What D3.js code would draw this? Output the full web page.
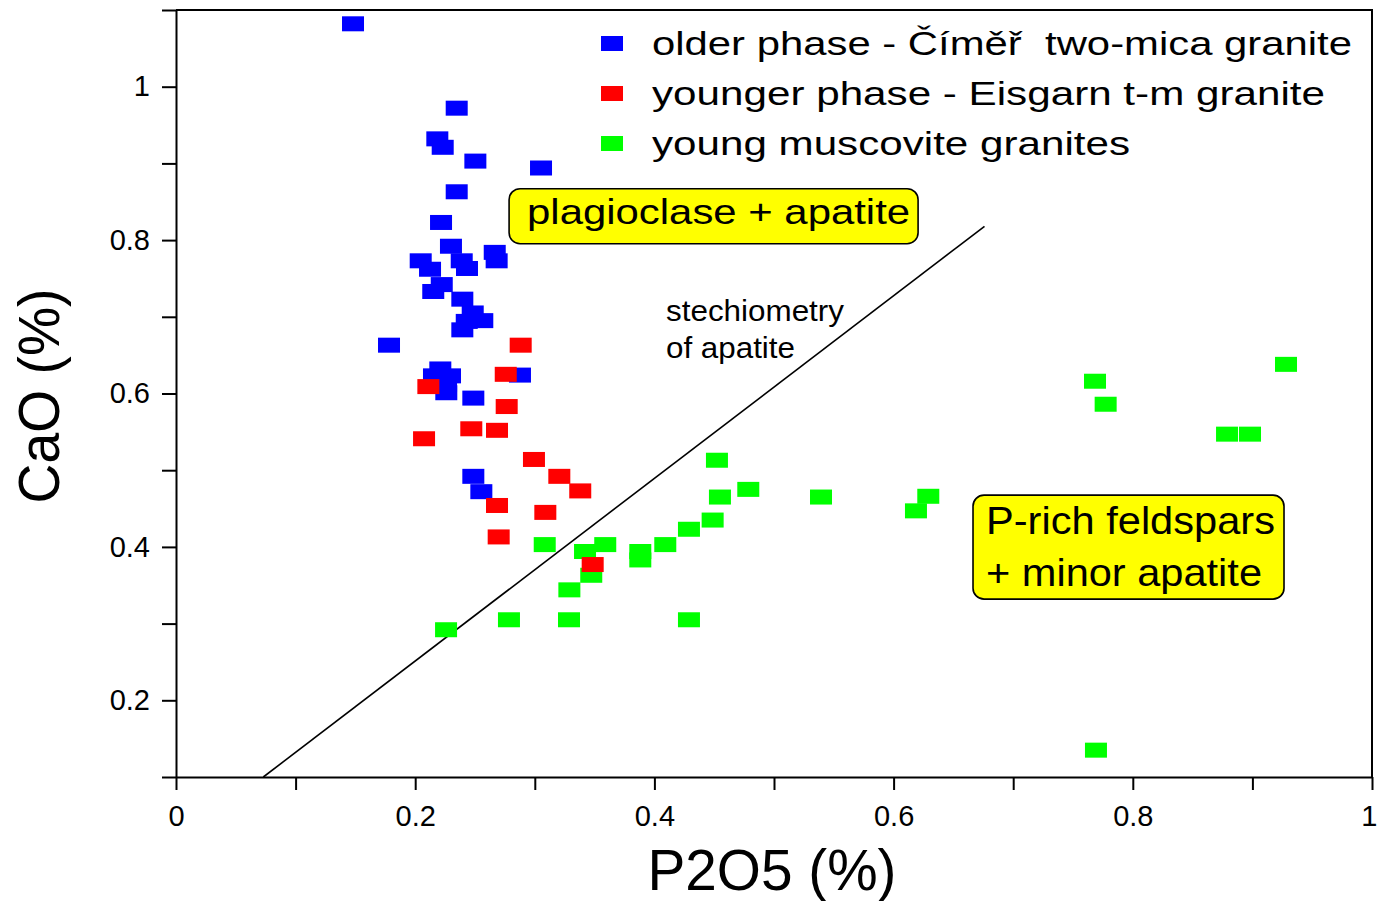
<!DOCTYPE html>
<html>
<head>
<meta charset="utf-8">
<script src="https://cdn.jsdelivr.net/npm/d3@7"></script>
<style>
  body { margin: 0; background: #fff; }
  svg text { font-family: "Liberation Sans", Arial, sans-serif; fill: #000; }
</style>
</head>
<body>
<div id="chart"></div>
<script>
// older phase - Číměř two-mica granite
var olderP2O5 = [0.148, 0.2347, 0.2185, 0.2230, 0.2503, 0.3052, 0.2347, 0.2216, 0.2299, 0.2389, 0.2433,
                 0.2665, 0.2681, 0.2046, 0.2124, 0.2222, 0.2151, 0.2394, 0.2481, 0.2561, 0.2431, 0.2394,
                 0.1781, 0.2210, 0.2157, 0.2291, 0.2258, 0.2260, 0.2486, 0.2876, 0.2486, 0.2553];
var olderCaO  = [1.082, 0.972, 0.932, 0.921, 0.903, 0.894, 0.863, 0.823, 0.792, 0.773, 0.763,
                 0.784, 0.773, 0.773, 0.762, 0.742, 0.733, 0.723, 0.705, 0.695, 0.694, 0.683,
                 0.663, 0.632, 0.623, 0.623, 0.612, 0.601, 0.594, 0.624, 0.492, 0.472];

// younger phase - Eisgarn t-m granite
var youngerP2O5 = [0.2882, 0.2757, 0.2110, 0.2765, 0.2469, 0.2684, 0.2074, 0.2993, 0.3205, 0.3380,
                   0.2684, 0.3088, 0.2698, 0.3484];
var youngerCaO  = [0.663, 0.625, 0.609, 0.583, 0.554, 0.552, 0.541, 0.514, 0.492, 0.473,
                   0.454, 0.445, 0.413, 0.377];

// young muscovite granites
var muscP2O5 = [0.2258, 0.2784, 0.3286, 0.4289, 0.3083, 0.3420, 0.3589, 0.3882, 0.3882, 0.4091,
                0.3472, 0.3289, 0.4289, 0.4487, 0.4523, 0.4548, 0.4785, 0.5393, 0.6290, 0.6187,
                0.7684, 0.7773, 0.9281, 0.8788, 0.8980, 0.7692];
var muscCaO  = [0.292, 0.305, 0.305, 0.305, 0.403, 0.394, 0.403, 0.394, 0.383, 0.403,
                0.363, 0.344, 0.423, 0.435, 0.513, 0.465, 0.475, 0.465, 0.466, 0.447,
                0.616, 0.586, 0.638, 0.547, 0.547, 0.135];

// stechiometry of apatite line
var apatiteP2O5 = [0.073, 0.676];
var apatiteCaO  = [0.1, 0.818];

var xTicks = [0, 0.1, 0.2, 0.3, 0.4, 0.5, 0.6, 0.7, 0.8, 0.9, 1];
var yTicks = [0.1, 0.2, 0.3, 0.4, 0.5, 0.6, 0.7, 0.8, 0.9, 1, 1.1];

var seriesNames = ["older phase - Číměř  two-mica granite",
                   "younger phase - Eisgarn t-m granite",
                   "young muscovite granites"];
var seriesColors = ["#0000ff", "#ff0000", "#00ff00"];

var width = 1377, height = 901;
var margin = {top: 10, right: 5, bottom: 124, left: 176};

var svg = d3.select("#chart")
    .append("svg")
    .attr("width", width)
    .attr("height", height);

var x = d3.scaleLinear()
    .domain([0, 1])
    .range([margin.left, width - margin.right]);

var y = d3.scaleLinear()
    .domain([0.1, 1.1])
    .range([height - margin.bottom, margin.top]);

function label(d) {
  var k = Math.round(d * 10);
  return k % 2 === 0 ? String(+d.toFixed(1)) : "";
}

// axes
var xAxis = svg.append("g")
    .attr("transform", "translate(0," + y(0.1) + ")")
    .call(d3.axisBottom(x).tickValues(xTicks).tickFormat(label).tickSize(13).tickSizeOuter(0).tickPadding(15));
var yAxis = svg.append("g")
    .attr("transform", "translate(" + x(0) + ",0)")
    .call(d3.axisLeft(y).tickValues(yTicks).tickFormat(label).tickSize(14).tickSizeOuter(0).tickPadding(12));

[xAxis, yAxis].forEach(function(a) {
  a.select(".domain").attr("stroke", "#000").attr("stroke-width", 2);
  a.selectAll(".tick line").attr("stroke", "#000").attr("stroke-width", 2);
  a.selectAll(".tick text")
    .style("font-family", "'Liberation Sans', Arial, sans-serif")
    .style("font-size", "29px")
    .attr("fill", "#000");
});
// keep the last x label inside the picture
xAxis.selectAll(".tick text")
    .filter(function(d) { return d === 1; })
    .attr("text-anchor", "end")
    .attr("x", 5);

// frame top and right
svg.append("path")
    .attr("d", "M" + x(0) + "," + y(1.1) + "H" + x(1) + "V" + y(0.1))
    .attr("fill", "none")
    .attr("stroke", "#000")
    .attr("stroke-width", 2);

// apatite line
svg.append("line")
    .attr("x1", x(apatiteP2O5[0])).attr("y1", y(apatiteCaO[0]))
    .attr("x2", x(apatiteP2O5[1])).attr("y2", y(apatiteCaO[1]))
    .attr("stroke", "#000")
    .attr("stroke-width", 1.6);

// points
var mw = 22, mh = 15;
function drawPoints(px, py, color) {
  svg.append("g").selectAll("rect")
    .data(px.map(function(d, i) { return [d, py[i]]; }))
    .enter().append("rect")
    .attr("x", function(d) { return x(d[0]) - mw / 2; })
    .attr("y", function(d) { return y(d[1]) - mh / 2; })
    .attr("width", mw)
    .attr("height", mh)
    .attr("fill", color);
}
drawPoints(muscP2O5, muscCaO, seriesColors[2]);
drawPoints(olderP2O5, olderCaO, seriesColors[0]);
drawPoints(youngerP2O5, youngerCaO, seriesColors[1]);

// legend
var legendY = [55, 105, 155];
var legendLen = [700, 673, 478];
var legend = svg.append("g");
seriesNames.forEach(function(name, i) {
  legend.append("rect")
    .attr("x", 601).attr("y", legendY[i] - 19)
    .attr("width", mw).attr("height", mh)
    .attr("fill", seriesColors[i]);
  legend.append("text")
    .attr("x", 652).attr("y", legendY[i])
    .attr("font-size", 33)
    .attr("textLength", legendLen[i])
    .attr("lengthAdjust", "spacingAndGlyphs")
    .style("white-space", "pre")
    .text(name);
});

// annotation boxes
function box(x0, y0, w, h) {
  svg.append("rect")
    .attr("x", x0).attr("y", y0)
    .attr("width", w).attr("height", h)
    .attr("rx", 11).attr("ry", 11)
    .attr("fill", "#ffff00")
    .attr("stroke", "#000")
    .attr("stroke-width", 1.6);
}
box(x(0.2785), y(0.867), 409, 55);
svg.append("text")
    .attr("x", x(0.2785) + 18).attr("y", y(0.867) + 35)
    .attr("font-size", 35)
    .attr("textLength", 383)
    .attr("lengthAdjust", "spacingAndGlyphs")
    .text("plagioclase + apatite");

box(x(0.6664), y(0.4675), 311, 104);
svg.append("text")
    .attr("x", x(0.6664) + 13).attr("y", y(0.4675) + 39)
    .attr("font-size", 39)
    .attr("textLength", 289)
    .attr("lengthAdjust", "spacingAndGlyphs")
    .text("P-rich feldspars");
svg.append("text")
    .attr("x", x(0.6664) + 13).attr("y", y(0.4675) + 91)
    .attr("font-size", 39)
    .attr("textLength", 276)
    .attr("lengthAdjust", "spacingAndGlyphs")
    .text("+ minor apatite");

// line label
svg.append("text")
    .attr("x", x(0.4097)).attr("y", y(0.694))
    .attr("font-size", 29)
    .attr("textLength", 178)
    .attr("lengthAdjust", "spacingAndGlyphs")
    .text("stechiometry");
svg.append("text")
    .attr("x", x(0.4097)).attr("y", y(0.694) + 37)
    .attr("font-size", 29)
    .attr("textLength", 129)
    .attr("lengthAdjust", "spacingAndGlyphs")
    .text("of apatite");

// axis titles
svg.append("text")
    .attr("x", 772).attr("y", 890)
    .attr("text-anchor", "middle")
    .attr("font-size", 57)
    .attr("textLength", 249)
    .attr("lengthAdjust", "spacingAndGlyphs")
    .text("P2O5 (%)");

svg.append("text")
    .attr("transform", "translate(59,396) rotate(-90)")
    .attr("text-anchor", "middle")
    .attr("font-size", 57)
    .attr("textLength", 215)
    .attr("lengthAdjust", "spacingAndGlyphs")
    .text("CaO (%)");
</script>
</body>
</html>
